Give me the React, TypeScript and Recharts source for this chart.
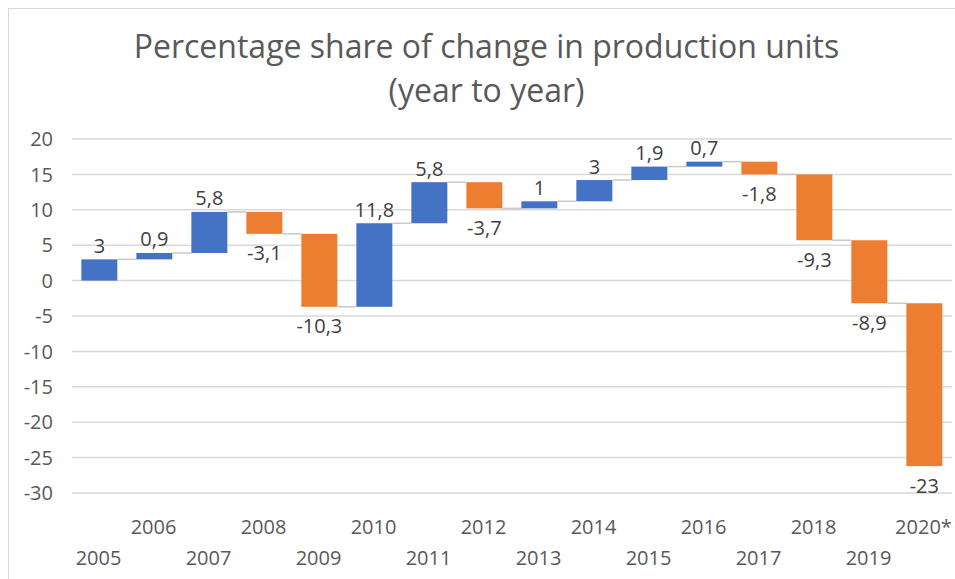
import React from 'react';
import { BarChart, Bar, XAxis, YAxis, CartesianGrid } from 'recharts';

const years = ['2005', '2006', '2007', '2008', '2009', '2010', '2011', '2012', '2013', '2014', '2015', '2016', '2017', '2018', '2019', '2020*'];
const changes = [3, 0.9, 5.8, -3.1, -10.3, 11.8, 5.8, -3.7, 1, 3, 1.9, 0.7, -1.8, -9.3, -8.9, -23];
const yTicks = [-30, -25, -20, -15, -10, -5, 0, 5, 10, 15, 20];

const BLUE = '#4472C4';
const ORANGE = '#ED7D31';
const FONT = '"Open Sans", sans-serif';

const CHART_W = 946;
const CHART_H = 570;
const Y_AXIS_W = 63;
const MARGIN = { top: 130, right: 3, left: 0, bottom: 0 };
// width of one category band, used to reach the next bar with the connector
const BAND = (CHART_W - Y_AXIS_W - MARGIN.left - MARGIN.right) / years.length;

// running totals -> floating bars
let running = 0;
const data = years.map((year, i) => {
  const start = running;
  running = +(running + changes[i]).toFixed(2);
  return {
    year,
    change: changes[i],
    label: String(changes[i]).replace('.', ','),
    range: [Math.min(start, running), Math.max(start, running)],
  };
});

const WaterfallBar = (props: any) => {
  const { x, y, width, height, index, payload } = props;
  const top = Math.min(y, y + height);
  const h = Math.abs(height);
  const up = payload.change >= 0;
  const endY = up ? top : top + h;
  return (
    <g>
      <rect x={x} y={top} width={width} height={Math.max(h, 1)} fill={up ? BLUE : ORANGE} />
      {index < years.length - 1 && (
        <line x1={x + width} x2={x + BAND} y1={endY} y2={endY} stroke="#c9c9c9" strokeWidth={1.5} />
      )}
      <text
        x={x + width / 2}
        y={up ? top - 14 : top + h + 19}
        textAnchor="middle"
        dominantBaseline="central"
        fill="#404040"
        fontSize={20}
        fontFamily={FONT}
      >
        {payload.label}
      </text>
    </g>
  );
};

const YearTick = (props: any) => {
  const { x, y, payload, index } = props;
  const i = payload.index ?? index;
  return (
    <text
      x={x - 1}
      y={y + (i % 2 === 0 ? 64 : 33.5)}
      textAnchor="middle"
      dominantBaseline="central"
      fill="#595959"
      fontSize={20}
      fontFamily={FONT}
    >
      {payload.value}
    </text>
  );
};

export default function App() {
  return (
    <div
      style={{
        position: 'fixed', left: 8, top: 8, width: CHART_W, height: CHART_H, background: '#fff',
        borderTop: '1px solid #d9d9d9', borderLeft: '1px solid #d9d9d9',
      }}
    >
      <style>{'.recharts-surface { overflow: visible; }'}</style>
      <div
        style={{
          position: 'absolute', left: 0, top: 14.6, width: CHART_W - 9, paddingLeft: 9, textAlign: 'center',
          fontFamily: FONT, fontSize: 32, lineHeight: '44px', color: '#595959',
        }}
      >
        Percentage share of change in production units
        <br />
        (year to year)
      </div>
      <BarChart width={CHART_W} height={CHART_H} data={data} margin={MARGIN} barCategoryGap="17%">
        <CartesianGrid vertical={false} stroke="#d9d9d9" strokeWidth={1.5} />
        <XAxis
          dataKey="year"
          interval={0}
          height={86}
          axisLine={false}
          tickLine={false}
          tickSize={0}
          tickMargin={0}
          tick={<YearTick />}
        />
        <YAxis
          width={Y_AXIS_W}
          domain={[-30, 20]}
          ticks={yTicks}
          interval={0}
          axisLine={false}
          tickLine={false}
          tickSize={0}
          tickMargin={19}
          tick={{ fill: '#595959', fontSize: 20, fontFamily: FONT }}
        />
        <Bar dataKey="range" shape={<WaterfallBar />} isAnimationActive={false} />
      </BarChart>
    </div>
  );
}
